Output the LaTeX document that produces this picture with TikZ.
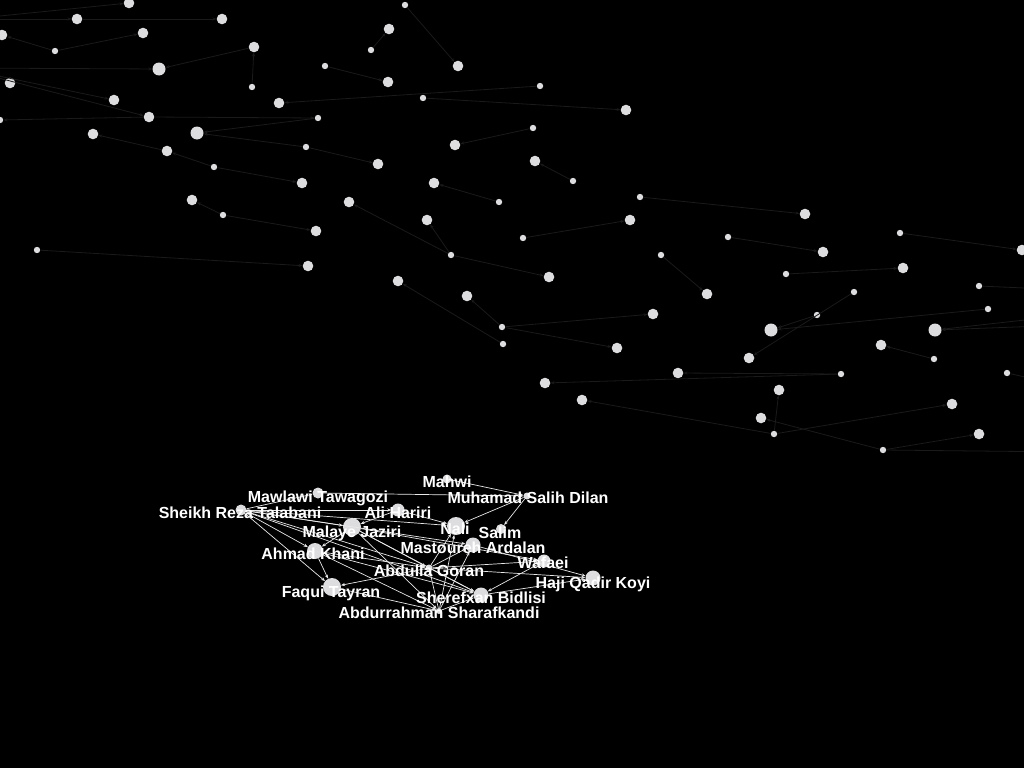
\documentclass[tikz,border=0pt]{standalone}
\usepackage{fontspec}
\setmainfont{Liberation Sans}
\usetikzlibrary{arrows.meta}
\definecolor{nodefill}{RGB}{221,221,224}
\definecolor{bgline}{RGB}{26,26,26}
\definecolor{fgline}{RGB}{232,232,232}
\begin{document}
\begin{tikzpicture}[x=1pt,y=-1pt,
  bgB/.style={circle,fill=nodefill,inner sep=0pt,minimum size=10.6pt},
  bgS/.style={circle,fill=nodefill,inner sep=0pt,minimum size=6.4pt},
  bgL/.style={circle,fill=nodefill,inner sep=0pt,minimum size=13pt},
  fgnode/.style={circle,fill=nodefill,inner sep=0pt},
  bgedge/.style={draw=bgline,line width=0.8pt,-{Stealth[length=4pt,width=3pt]}},
  fgedge/.style={draw=fgline,line width=0.7pt,-{Stealth[length=4pt,width=3.2pt]}},
  lbl/.style={text=white,font=\bfseries\fontsize{16}{18}\selectfont,inner sep=0pt,anchor=base}
]
\fill[black] (0,0) rectangle (1024,768);
\useasboundingbox (0,0) rectangle (1024,768);

% off-screen end points
\coordinate (o1) at (-40,68);
\coordinate (o2) at (-30,19);
\coordinate (o3) at (1070,290);
\coordinate (o4) at (1070,387);
\coordinate (o5) at (1070,452);
\coordinate (o6) at (1070,315);
\coordinate (o7) at (1070,325);

% background nodes
\foreach \n/\x/\y/\s in {
q129x3/129/3/bgB, q405x5/405/5/bgS, q77x19/77/19/bgB, q222x19/222/19/bgB,
q2x35/2/35/bgB, q143x33/143/33/bgB, q389x29/389/29/bgB, q55x51/55/51/bgS,
q254x47/254/47/bgB, q371x50/371/50/bgS, q159x69/159/69/bgL, q325x66/325/66/bgS,
q458x66/458/66/bgB, q10x83/10/83/bgB, q252x87/252/87/bgS, q388x82/388/82/bgB,
q540x86/540/86/bgS, q114x100/114/100/bgB, q279x103/279/103/bgB, q423x98/423/98/bgS,
q626x110/626/110/bgB, q149x117/149/117/bgB, q318x118/318/118/bgS, q0x120/0/120/bgS,
q93x134/93/134/bgB, q197x133/197/133/bgL, q533x128/533/128/bgS, q455x145/455/145/bgB,
q306x147/306/147/bgS, q167x151/167/151/bgB, q378x164/378/164/bgB, q535x161/535/161/bgB,
q214x167/214/167/bgS, q302x183/302/183/bgB, q434x183/434/183/bgB, q573x181/573/181/bgS,
q192x200/192/200/bgB, q349x202/349/202/bgB, q499x202/499/202/bgS, q640x197/640/197/bgS,
q805x214/805/214/bgB, q223x215/223/215/bgS, q427x220/427/220/bgB, q630x220/630/220/bgB,
q316x231/316/231/bgB, q523x238/523/238/bgS, q728x237/728/237/bgS, q900x233/900/233/bgS,
q37x250/37/250/bgS, q451x255/451/255/bgS, q661x255/661/255/bgS, q823x252/823/252/bgB,
q1022x250/1022/250/bgB, q308x266/308/266/bgB, q549x277/549/277/bgB, q786x274/786/274/bgS,
q903x268/903/268/bgB, q398x281/398/281/bgB, q467x296/467/296/bgB, q707x294/707/294/bgB,
q854x292/854/292/bgS, q979x286/979/286/bgS, q988x309/988/309/bgS, q653x314/653/314/bgB,
q817x315/817/315/bgS, q771x330/771/330/bgL, q935x330/935/330/bgL, q502x327/502/327/bgS,
q503x344/503/344/bgS, q617x348/617/348/bgB, q881x345/881/345/bgB, q749x358/749/358/bgB,
q934x359/934/359/bgS, q1007x373/1007/373/bgS, q678x373/678/373/bgB, q841x374/841/374/bgS,
q545x383/545/383/bgB, q779x390/779/390/bgB, q582x400/582/400/bgB, q952x404/952/404/bgB,
q761x418/761/418/bgB, q774x434/774/434/bgS, q979x434/979/434/bgB, q883x450/883/450/bgS}
  \node[\s] (\n) at (\x,\y) {};

% background connectors
\foreach \a/\b in {
o2/q129x3, o2/q77x19, q77x19/q222x19, q55x51/q2x35, q55x51/q143x33,
q254x47/q159x69, o1/q159x69, q252x87/q254x47, q325x66/q388x82,
o1/q114x100, o1/q149x117, q540x86/q279x103, q423x98/q626x110,
q149x117/q318x118, q149x117/q0x120, q318x118/q197x133, q306x147/q197x133,
q306x147/q378x164, q167x151/q93x134, q214x167/q167x151, q214x167/q302x183,
q223x215/q192x200, q223x215/q316x231, q37x250/q308x266, q405x5/q458x66,
q371x50/q389x29, q533x128/q455x145, q573x181/q535x161, q499x202/q434x183,
q451x255/q349x202, q451x255/q427x220, q451x255/q549x277, q523x238/q630x220,
q640x197/q805x214, q728x237/q823x252, q661x255/q707x294, q900x233/q1022x250,
q786x274/q903x268, q979x286/o3, q854x292/q749x358, q817x315/q771x330,
q988x309/q771x330, o6/q935x330, o7/q935x330, q934x359/q881x345,
q1007x373/o4, q841x374/q678x373, q841x374/q545x383, q774x434/q582x400,
q774x434/q779x390, q774x434/q952x404, q883x450/q761x418, q883x450/q979x434,
q883x450/o5, q502x327/q467x296, q502x327/q653x314, q502x327/q617x348,
q503x344/q398x281}
  \draw[bgedge] (\a) -- (\b);

% labelled cluster nodes
\foreach \n/\x/\y/\d in {
mahwi/447/479/9, dilan/527/496/7, mawlawi/318/493/11, sheikh/241/510/11,
ali/398/510/13, malaye/352/527/18, nali/456/526/18, salim/501/529/10,
mastoureh/473/545/15, ahmad/315/551/16, goran/429/568/7, wafaei/544/561/13,
haji/593/578/15, faqui/332/587/18, sherefxan/481/595/15, abdur/439/611/6}
  \node[fgnode,minimum size=\d pt] (\n) at (\x,\y) {};

% cluster connectors
\foreach \a/\b in {
sheikh/mawlawi, sheikh/ali, sheikh/malaye, sheikh/nali, sheikh/mastoureh,
sheikh/ahmad, sheikh/faqui, sheikh/goran, sheikh/sherefxan,
mawlawi/dilan, mahwi/dilan, dilan/nali, dilan/salim,
ali/malaye, ali/nali, malaye/ahmad, malaye/goran, malaye/abdur,
malaye/wafaei, malaye/sherefxan, ahmad/faqui, ahmad/goran,
ahmad/sherefxan, ahmad/abdur, goran/faqui, faqui/abdur,
goran/nali, goran/mastoureh, goran/wafaei, goran/haji, goran/sherefxan,
abdur/nali, abdur/mastoureh, abdur/goran, abdur/sherefxan,
wafaei/sherefxan, sherefxan/haji, mastoureh/haji}
  \draw[fgedge] (\a) -- (\b);

% labels
\node[lbl] (lmahwi) at (447,487) {Mahwi};
\node[lbl] (ldilan) at (528,503) {Muhamad Salih Dilan};
\node[lbl] (lmawlawi) at (318,502) {Mawlawi Tawagozi};
\node[lbl] (lsheikh) at (240,518.5) {Sheikh Reza Talabani};
\node[lbl] (lali) at (398,518) {Ali Hariri};
\node[lbl] (lmalaye) at (352,537) {Malaye Jaziri};
\node[lbl] (lnali) at (455,534) {Nali};
\node[lbl] (lsalim) at (500,538) {Salim};
\node[lbl] (lmastoureh) at (473,553) {Mastoureh Ardalan};
\node[lbl] (lahmad) at (313,559) {Ahmad Khani};
\node[lbl] (lgoran) at (429,576) {Abdulla Goran};
\node[lbl] (lwafaei) at (543,568) {Wafaei};
\node[lbl] (lhaji) at (593,588) {Haji Qadir Koyi};
\node[lbl] (lfaqui) at (331,597) {Faqui Tayran};
\node[lbl] (lsherefxan) at (481,603) {Sherefxan Bidlisi};
\node[lbl] (labdur) at (439,618) {Abdurrahman Sharafkandi};
\end{tikzpicture}
\end{document}
